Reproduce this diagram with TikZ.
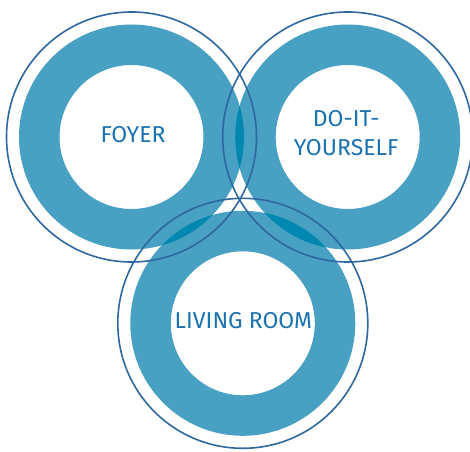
\documentclass[tikz,border=0pt]{standalone}
\usepackage{fontspec}
\setsansfont{Fira Sans}

\definecolor{ringblue}{HTML}{48A0C2}
\definecolor{lensblue}{HTML}{0088B0}
\definecolor{rimblue}{HTML}{2F67A0}
\definecolor{labelblue}{HTML}{1A72B0}

\begin{document}
\begin{tikzpicture}[x=1pt, y=1pt,
    room/.style={font=\sffamily\fontsize{23}{29}\selectfont,
                 text=labelblue, align=center, inner sep=0pt}]
  \useasboundingbox (0,0) rectangle (470,451);
  % centres of the three rooms
  \coordinate (foyer) at (131.5,314);
  \coordinate (diy) at (347.7,314);
  \coordinate (living) at (242.8,127.7);
  % white backing discs
  \foreach \c in {foyer,diy,living}
    \fill[white] (\c) circle (125);
  % thick rings
  \foreach \c in {foyer,diy,living}
    \fill[ringblue, even odd rule] (\c) circle (112.5) circle (72);
  % where two rings overlap it gets darker
  \foreach \a/\b in {foyer/diy,foyer/living,diy/living}{
    \begin{scope}
      \clip (\a) circle (112.5);
      \fill[lensblue, even odd rule] (\b) circle (112.5) circle (72);
    \end{scope}
  }
  % thin outer rims on top
  \foreach \c in {foyer,diy,living}
    \draw[rimblue, line width=1.6] (\c) circle (125);
  % labels
  \node[room] (foyer-lab) at ([shift={(1.5,2)}]foyer) {FOYER};
  \node[room] (diy-lab) at ([shift={(-1.5,4)}]diy) {DO-IT-\\YOURSELF};
  \node[room] (living-lab) at ([shift={(0.6,2.5)}]living) {LIVING ROOM};
\end{tikzpicture}
\end{document}
